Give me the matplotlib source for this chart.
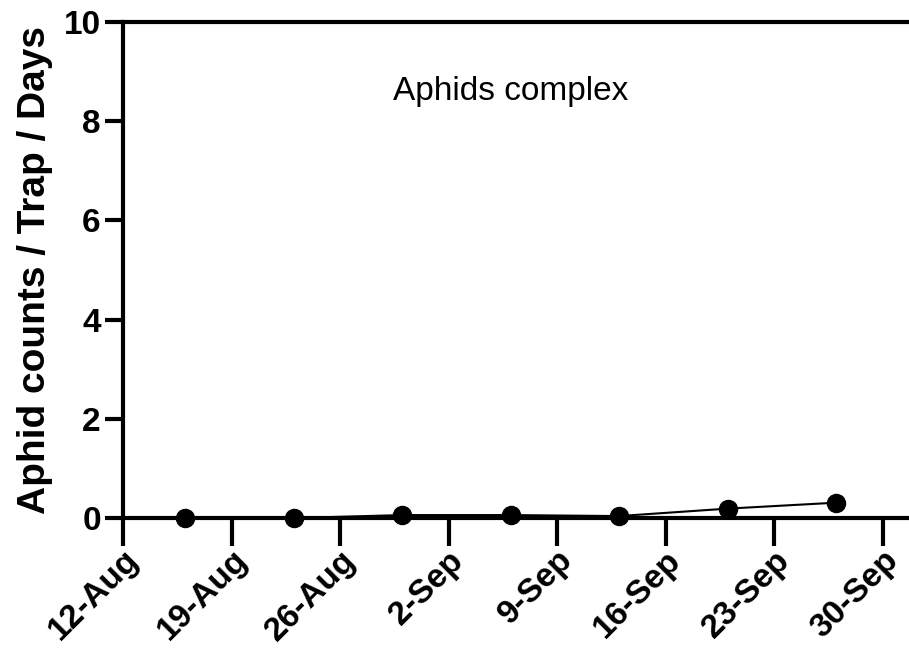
import datetime as dtm
import matplotlib
matplotlib.use("Agg")
import matplotlib.pyplot as plt

plt.rcParams['font.family'] = ['Liberation Sans', 'DejaVu Sans']

# sampling dates and aphid counts
sample_dates = ["2019-08-16", "2019-08-23", "2019-08-30", "2019-09-06",
                "2019-09-13", "2019-09-20", "2019-09-27"]
aphid_counts = [0.0, 0.0, 0.06, 0.06, 0.04, 0.19, 0.31]
tick_dates = ["2019-08-12", "2019-08-19", "2019-08-26", "2019-09-02",
              "2019-09-09", "2019-09-16", "2019-09-23", "2019-09-30"]
tick_labels = ["12-Aug", "19-Aug", "26-Aug", "2-Sep", "9-Sep", "16-Sep", "23-Sep", "30-Sep"]
y_ticks = [0, 2, 4, 6, 8, 10]

to_date = lambda s: dtm.datetime.strptime(s, "%Y-%m-%d")
x = [to_date(d) for d in sample_dates]
xt = [to_date(d) for d in tick_dates]

fig = plt.figure(figsize=(9.09, 6.5), dpi=100)
ax = fig.add_axes([0.1353, 0.203, 0.8647, 0.763])

ax.plot(x, aphid_counts, color="black", lw=1.5, marker="o", ms=13, clip_on=False, zorder=5)

ax.set_xlim(to_date("2019-08-12"), to_date("2019-08-12") + dtm.timedelta(days=50.7))
ax.set_ylim(0, 10)
ax.set_xticks(xt)
ax.set_xticklabels(tick_labels, rotation=45, ha="right", rotation_mode="anchor",
                   fontsize=24, fontweight="bold")
ax.set_yticks(y_ticks)
ax.set_yticklabels([str(v) for v in y_ticks], fontsize=24, fontweight="bold")
ax.tick_params(axis="x", length=20, width=3, pad=-1)
ax.tick_params(axis="y", length=13, width=3, pad=3)

for s in ["left", "bottom", "top"]:
    ax.spines[s].set_linewidth(3)
ax.spines["right"].set_visible(False)

ax.set_ylabel("Aphid counts / Trap / Days", fontsize=28, fontweight="bold", labelpad=8)
ax.text(to_date("2019-09-06"), 8.6, "Aphids complex", fontsize=24, ha="center", va="center")

fig.savefig("out.png", dpi=100)
